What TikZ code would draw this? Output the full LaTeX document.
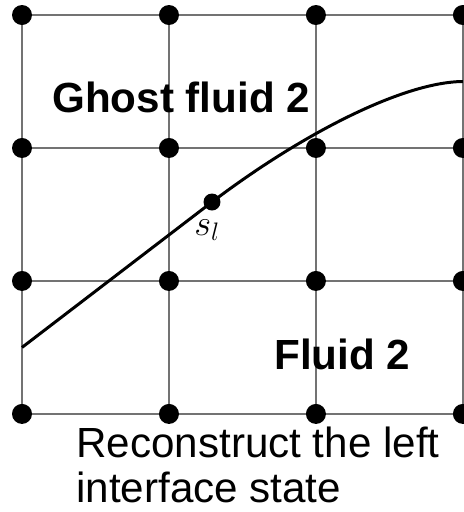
\documentclass[tikz,border=0pt]{standalone}
\usepackage{fontspec}
\setmainfont{Liberation Sans}
\usetikzlibrary{positioning, calc}

\begin{document}
\begin{tikzpicture}[
        x=0.02cm, y=-0.02cm,
        % node distance: vertical=2.66cm, horizontal=2.94cm (one grid cell)
        node distance=2.66cm and 2.94cm,
        every node/.style={font=\fontsize{24}{25.6}\selectfont},
        dot/.style={circle, fill=black, inner sep=0pt,
                    minimum size=0.4cm, on grid},
        gridline/.style={draw=black!55, line width=1.1pt},
        interface/.style={draw=black, line width=1.7pt},
        region/.style={inner sep=0pt, anchor=base west,
                       font=\fontsize{24}{25.6}\selectfont\bfseries}
    ]
    \useasboundingbox (0,0) rectangle (464,512);

    % --- Grid points ---
    \node[dot] (p11) at (22,15) {};
    \node[dot, right=of p11] (p12) {};
    \node[dot, right=of p12] (p13) {};
    \node[dot, right=of p13] (p14) {};

    \node[dot, below=of p11] (p21) {};
    \node[dot, right=of p21] (p22) {};
    \node[dot, right=of p22] (p23) {};
    \node[dot, right=of p23] (p24) {};

    \node[dot, below=of p21] (p31) {};
    \node[dot, right=of p31] (p32) {};
    \node[dot, right=of p32] (p33) {};
    \node[dot, right=of p33] (p34) {};

    \node[dot, below=of p31] (p41) {};
    \node[dot, right=of p41] (p42) {};
    \node[dot, right=of p42] (p43) {};
    \node[dot, right=of p43] (p44) {};

    % --- Grid lines ---
    \draw[gridline] (p11) -- (p12) -- (p13) -- (p14);
    \draw[gridline] (p21) -- (p22) -- (p23) -- (p24);
    \draw[gridline] (p31) -- (p32) -- (p33) -- (p34);
    \draw[gridline] (p41) -- (p42) -- (p43) -- (p44);

    \draw[gridline] (p11) -- (p21) -- (p31) -- (p41);
    \draw[gridline] (p12) -- (p22) -- (p32) -- (p42);
    \draw[gridline] (p13) -- (p23) -- (p33) -- (p43);
    \draw[gridline] (p14) -- (p24) -- (p34) -- (p44);

    % --- Interface ---
    \coordinate (lend) at ($(p31)!0.5!(p41)$);
    \coordinate (rend) at ($(p14)!0.5!(p24)$);
    \node[dot, minimum size=0.34cm] (sl) at (212,202) {};
    \node[anchor=base west, inner sep=0pt,
          font=\fontsize{22}{24}\selectfont] (sllabel) at (194,235) {$s_l$};

    \draw[interface] (lend) -- (sl.center)
        .. controls (306,131) and (405,82) .. (rend);

    % --- Labels ---
    \node[region] (ghost) at (52,112) {Ghost fluid 2};
    \node[region] (fluid) at (274,369) {Fluid 2};

    \node[anchor=north west, inner sep=0pt, align=left] (caption)
        at (76,427) {Reconstruct the left\\interface state};

\end{tikzpicture}
\end{document}
